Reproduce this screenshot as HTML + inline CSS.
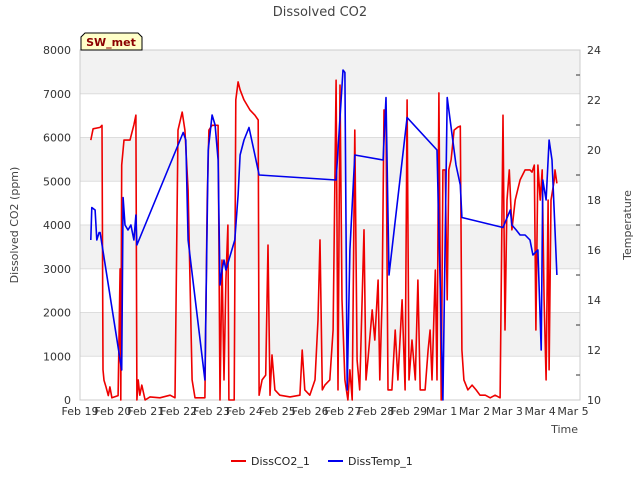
<!DOCTYPE html>
<html><head><meta charset="utf-8"><style>
body{margin:0;background:#fff;font-family:"Liberation Sans","DejaVu Sans",sans-serif;}
text{font-family:"DejaVu Sans","Liberation Sans",sans-serif;}
</style></head><body>
<svg id="chart" width="640" height="480" xmlns="http://www.w3.org/2000/svg">
<text x="320" y="16" text-anchor="middle" font-size="13" fill="#444">Dissolved CO2</text>
<g id="bands"></g>
<g id="grid"></g>
<rect x="80" y="50" width="500" height="350" fill="none" stroke="#ccc"/>
<g id="series"></g>
<g id="axes"></g>
<text transform="translate(18,225) rotate(-90)" text-anchor="middle" font-size="11" fill="#444">Dissolved CO2 (ppm)</text>
<text transform="translate(631,225) rotate(-90)" text-anchor="middle" font-size="11" fill="#444">Temperature</text>
<text x="578" y="433" text-anchor="end" font-size="11" fill="#444">Time</text>
<g>
<path d="M81,50 L81,37 L85,33 L138,33 L142,37 L142,50 Z" fill="#ffffc8" stroke="#000"/>
<text x="111" y="46" text-anchor="middle" font-size="11" font-weight="bold" fill="#8b0000">SW_met</text>
</g>
<g>
<g><line x1="231" y1="461" x2="246" y2="461" stroke="#e00" stroke-width="2"/><text x="251" y="465" font-size="11" fill="#222">DissCO2_1</text></g>
<g><line x1="328" y1="461" x2="343" y2="461" stroke="#00e" stroke-width="2"/><text x="348" y="465" font-size="11" fill="#222">DissTemp_1</text></g>
</g>
</svg>
<script>
const xTickLabels=["Feb 19","Feb 20","Feb 21","Feb 22","Feb 23","Feb 24","Feb 25","Feb 26","Feb 27","Feb 28","Feb 29","Mar 1","Mar 2","Mar 3","Mar 4","Mar 5"];
const yTicks=[0,1000,2000,3000,4000,5000,6000,7000,8000];
const y2Ticks=[10,12,14,16,18,20,22,24];
const co2Days=[0.33,0.40,0.61,0.67,0.70,0.73,0.79,0.86,0.91,0.97,1.16,1.22,1.24,1.27,1.34,1.52,1.64,1.70,1.73,1.77,1.82,1.88,1.98,2.13,2.43,2.74,2.89,2.98,3.11,3.19,3.29,3.41,3.50,3.80,3.87,3.92,4.02,4.20,4.26,4.32,4.38,4.44,4.50,4.53,4.69,4.74,4.81,4.87,4.99,5.17,5.32,5.42,5.45,5.54,5.65,5.72,5.78,5.84,5.93,6.08,6.39,6.69,6.76,6.84,6.99,7.15,7.24,7.30,7.37,7.45,7.60,7.70,7.79,7.85,7.91,7.97,8.06,8.15,8.21,8.28,8.36,8.43,8.51,8.64,8.70,8.76,8.89,8.97,9.07,9.12,9.19,9.25,9.31,9.37,9.49,9.59,9.67,9.80,9.89,9.95,10.01,10.10,10.20,10.28,10.35,10.50,10.59,10.65,10.71,10.81,10.86,10.92,10.99,11.04,11.11,11.17,11.22,11.29,11.38,11.50,11.57,11.62,11.68,11.80,11.93,12.05,12.17,12.33,12.48,12.63,12.78,12.87,12.93,12.99,13.06,13.14,13.24,13.39,13.54,13.69,13.75,13.82,13.87,13.93,14.00,14.06,14.12,14.18,14.24,14.27,14.33,14.43,14.45,14.51];
const co2Values=[5940,6200,6230,6280,690,450,300,100,300,50,100,3000,0,5370,5940,5940,6290,6510,0,460,110,340,0,70,50,110,50,6170,6580,6170,4800,460,50,50,4570,6170,6280,6280,0,3200,460,2740,4000,0,0,6860,7270,7090,6860,6630,6510,6400,110,460,570,3540,110,1030,230,110,70,110,1140,230,110,460,1830,3660,230,340,460,1600,7310,230,7200,2290,460,0,690,0,6170,910,230,3890,460,910,2060,1370,2740,460,2290,6630,6400,230,230,1600,460,2290,230,6860,460,1370,460,2740,230,230,1140,1600,460,2970,460,7020,0,5260,5260,2290,5260,5490,6170,6240,6260,1140,460,230,340,230,110,110,50,110,50,6510,1600,4570,5260,3890,4570,5030,5260,5260,5210,5370,1600,5370,4570,5260,2290,460,4570,690,4570,5030,5260,4950];
const tempDays=[0.33,0.36,0.46,0.51,0.58,0.61,1.27,1.31,1.37,1.46,1.55,1.64,1.70,1.73,3.14,3.22,3.29,3.80,3.90,4.02,4.11,4.20,4.26,4.32,4.38,4.44,4.71,4.81,4.87,4.99,5.14,5.32,5.45,7.79,8.00,8.06,8.13,8.21,8.36,9.22,9.31,9.40,9.95,10.86,11.04,11.17,11.32,11.44,11.57,11.62,12.87,13.09,13.14,13.27,13.39,13.54,13.69,13.78,13.93,14.03,14.08,14.18,14.27,14.36,14.45,14.51];
const tempValues=[16.4,17.7,17.6,16.4,16.7,16.7,11.2,18.1,17.0,16.8,17.0,16.4,17.4,16.2,20.7,20.4,16.4,10.8,20.0,21.4,21.0,19.6,14.6,15.2,15.6,15.2,16.4,18.2,19.8,20.4,20.9,19.8,19.0,18.8,23.2,23.1,10.4,16.0,19.8,19.6,22.1,15.0,21.3,20.0,10.0,22.1,20.6,19.4,18.6,17.3,16.9,17.6,17.0,16.8,16.6,16.6,16.4,15.8,16.0,12.0,18.8,18.0,20.4,19.6,16.8,15.0];

const NS="http://www.w3.org/2000/svg";
const X0=80,DAY=32.87,YB=400,YT=50;
function xs(d){return X0+d*DAY;}
function ys(v){return YB-(v/8000)*(YB-YT);}
function ys2(t){return YB-((t-10)/14)*(YB-YT);}
function mk(tag,attrs,parent){const e=document.createElementNS(NS,tag);for(const k in attrs)e.setAttribute(k,attrs[k]);document.getElementById(parent).appendChild(e);return e;}

for(let i=0;i<yTicks.length-1;i++){
  if(i%2===1){
    const b=mk('rect',{x:80,y:ys(yTicks[i+1]),width:500,height:ys(yTicks[i])-ys(yTicks[i+1]),fill:'#f2f2f2'},'bands');
    
    
  }
}
yTicks.forEach(v=>{
  const l=mk('line',{x1:80,x2:580,y1:ys(v),y2:ys(v),stroke:'#ddd'},'grid');
  
  
  const t=mk('text',{x:71,y:ys(v)+4,'text-anchor':'end','font-size':'11',fill:'#333'},'axes');
  t.textContent=v;
  
  
});
y2Ticks.forEach(v=>{
  const t=mk('text',{x:587,y:ys2(v)+4,'font-size':'11',fill:'#333'},'axes');
  t.textContent=v;
  
  
  if(v<24){
    const k=mk('line',{x1:576,x2:580,y1:ys2(v+1),y2:ys2(v+1),stroke:'#333'},'axes');
    
    
  }
});
xTickLabels.forEach((s,i)=>{
  const t=mk('text',{x:xs(i),y:415,'text-anchor':'middle','font-size':'11',fill:'#333'},'axes');
  t.textContent=s;
  
  
});
let p1='';co2Days.forEach((d,i)=>{p1+=(i?'L':'M')+xs(d).toFixed(1)+','+ys(co2Values[i]).toFixed(1);});
const r=mk('path',{d:p1,fill:'none',stroke:'#e00','stroke-width':'1.6','stroke-linejoin':'round'},'series');


let p2='';tempDays.forEach((d,i)=>{p2+=(i?'L':'M')+xs(d).toFixed(1)+','+ys2(tempValues[i]).toFixed(1);});
const b=mk('path',{d:p2,fill:'none',stroke:'#00e','stroke-width':'1.6','stroke-linejoin':'round'},'series');


</script>
</body></html>
